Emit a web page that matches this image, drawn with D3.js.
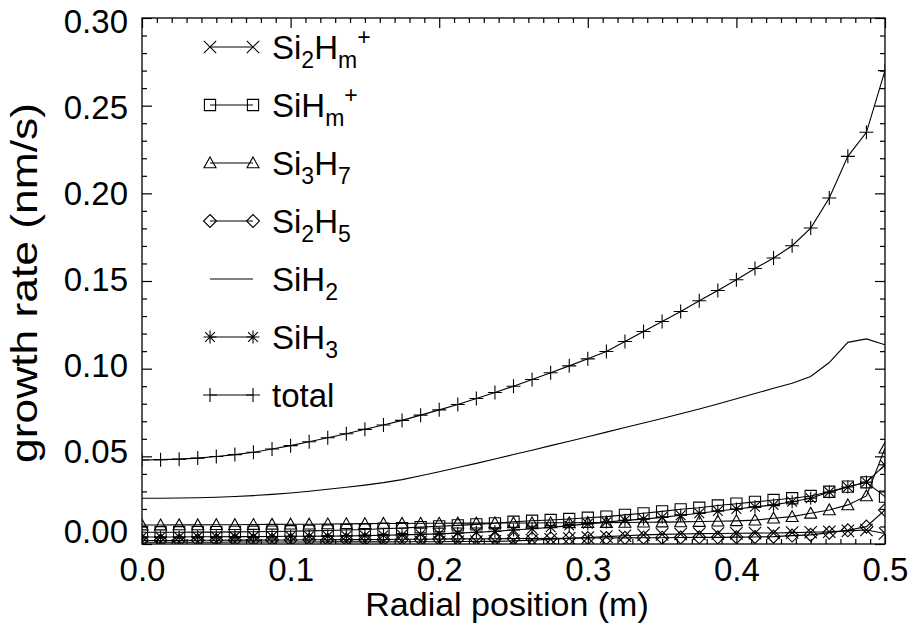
<!DOCTYPE html>
<html>
<head>
<meta charset="utf-8">
<script src="https://cdn.jsdelivr.net/npm/d3@7"></script>
<style>
  html, body { margin: 0; padding: 0; background: #fff; }
  svg text { font-family: "Liberation Sans", Arial, Helvetica, sans-serif; fill: #000; }
</style>
</head>
<body>
<svg id="chart" width="912" height="635"></svg>
<script>
// Radial grid (m)
const radialPosition = [0, 0.0125, 0.025, 0.0375, 0.05, 0.0625, 0.075, 0.0875, 0.1, 0.1125,
  0.125, 0.1375, 0.15, 0.1625, 0.175, 0.1875, 0.2, 0.2125, 0.225, 0.2375,
  0.25, 0.2625, 0.275, 0.2875, 0.3, 0.3125, 0.325, 0.3375, 0.35, 0.3625,
  0.375, 0.3875, 0.4, 0.4125, 0.425, 0.4375, 0.45, 0.4625, 0.475, 0.4875, 0.5];

// Growth rate contributions (nm/s)
const si2hmPlus = [0.0010, 0.0010, 0.0010, 0.0010, 0.0010, 0.0011, 0.0011, 0.0011, 0.0011, 0.0011,
  0.0012, 0.0012, 0.0012, 0.0012, 0.0013, 0.0013, 0.0013, 0.0014, 0.0014, 0.0015,
  0.0018, 0.0022, 0.0027, 0.0032, 0.0037, 0.0042, 0.0047, 0.0052, 0.0055, 0.0057,
  0.0059, 0.0060, 0.0061, 0.0062, 0.0063, 0.0065, 0.0067, 0.0070, 0.0075, 0.0080, 0.0060];
const sihmPlus = [0.0067, 0.0067, 0.0067, 0.0068, 0.0068, 0.0069, 0.0070, 0.0071, 0.0073, 0.0075,
  0.0077, 0.0080, 0.0083, 0.0087, 0.0091, 0.0096, 0.0101, 0.0106, 0.0112, 0.0118,
  0.0127, 0.0133, 0.0137, 0.0143, 0.0150, 0.0156, 0.0166, 0.0175, 0.0186, 0.0198,
  0.0207, 0.0220, 0.0230, 0.0240, 0.0251, 0.0261, 0.0274, 0.0298, 0.0327, 0.0352, 0.0270];
const si3h7 = [0.0108, 0.0108, 0.0109, 0.0109, 0.0110, 0.0110, 0.0111, 0.0112, 0.0113, 0.0113,
  0.0114, 0.0115, 0.0116, 0.0117, 0.0117, 0.0118, 0.0118, 0.0119, 0.0119, 0.0120,
  0.0120, 0.0120, 0.0121, 0.0121, 0.0122, 0.0122, 0.0123, 0.0124, 0.0125, 0.0126,
  0.0128, 0.0130, 0.0132, 0.0136, 0.0147, 0.0156, 0.0175, 0.0194, 0.0223, 0.0274, 0.0546];
const si2h5 = [0.0020, 0.0020, 0.0020, 0.0021, 0.0021, 0.0022, 0.0022, 0.0023, 0.0023, 0.0024,
  0.0024, 0.0025, 0.0025, 0.0026, 0.0027, 0.0027, 0.0028, 0.0029, 0.0029, 0.0030,
  0.0031, 0.0031, 0.0032, 0.0033, 0.0034, 0.0034, 0.0035, 0.0036, 0.0036, 0.0037,
  0.0038, 0.0038, 0.0039, 0.0040, 0.0042, 0.0048, 0.0052, 0.0065, 0.0078, 0.0099, 0.0194];
const sih2 = [0.0261, 0.0261, 0.0262, 0.0264, 0.0267, 0.0271, 0.0276, 0.0283, 0.0291, 0.0301,
  0.0312, 0.0324, 0.0336, 0.0350, 0.0367, 0.0389, 0.0412, 0.0436, 0.0460, 0.0485,
  0.0510, 0.0535, 0.0561, 0.0586, 0.0612, 0.0638, 0.0664, 0.0690, 0.0716, 0.0743,
  0.0770, 0.0798, 0.0828, 0.0858, 0.0888, 0.0917, 0.0955, 0.1035, 0.1150, 0.1170, 0.1136];
const sih3 = [0.0040, 0.0040, 0.0040, 0.0041, 0.0041, 0.0042, 0.0042, 0.0043, 0.0044, 0.0044,
  0.0045, 0.0046, 0.0048, 0.0050, 0.0052, 0.0055, 0.0058, 0.0062, 0.0067, 0.0072,
  0.0080, 0.0087, 0.0095, 0.0105, 0.0115, 0.0125, 0.0135, 0.0142, 0.0152, 0.0164,
  0.0175, 0.0188, 0.0200, 0.0212, 0.0223, 0.0241, 0.0261, 0.0296, 0.0325, 0.0353, 0.0451];
const total = [0.0479, 0.0481, 0.0484, 0.0490, 0.0499, 0.0510, 0.0523, 0.0542, 0.0561, 0.0583,
  0.0606, 0.0629, 0.0654, 0.0679, 0.0705, 0.0735, 0.0765, 0.0796, 0.0830, 0.0864,
  0.0900, 0.0938, 0.0977, 0.1016, 0.1056, 0.1098, 0.1155, 0.1212, 0.1269, 0.1326,
  0.1387, 0.1446, 0.1507, 0.1571, 0.1631, 0.1701, 0.1802, 0.1973, 0.2211, 0.2348, 0.2700];

// Axis ticks
const xMajorTicks = [0, 0.1, 0.2, 0.3, 0.4, 0.5];
const xMinorTicks = [0.01, 0.02, 0.03, 0.04, 0.05, 0.06, 0.07, 0.08, 0.09,
  0.11, 0.12, 0.13, 0.14, 0.15, 0.16, 0.17, 0.18, 0.19,
  0.21, 0.22, 0.23, 0.24, 0.25, 0.26, 0.27, 0.28, 0.29,
  0.31, 0.32, 0.33, 0.34, 0.35, 0.36, 0.37, 0.38, 0.39,
  0.41, 0.42, 0.43, 0.44, 0.45, 0.46, 0.47, 0.48, 0.49];
const yMajorTicks = [0, 0.05, 0.10, 0.15, 0.20, 0.25, 0.30];
const yMinorTicks = [0.01, 0.02, 0.03, 0.04, 0.06, 0.07, 0.08, 0.09,
  0.11, 0.12, 0.13, 0.14, 0.16, 0.17, 0.18, 0.19,
  0.21, 0.22, 0.23, 0.24, 0.26, 0.27, 0.28, 0.29];

const svg = d3.select("#chart");
const plot = { left: 142, right: 885, top: 18, bottom: 544 };

const x = d3.scaleLinear().domain([0, 0.5]).range([plot.left, plot.right]);
const y = d3.scaleLinear().domain([0, 0.30]).range([plot.bottom, plot.top]);

// Plot symbols, in the style of classic psym markers
const symbolPath = {
  cross:    s => `M${-s},${-s}L${s},${s}M${-s},${s}L${s},${-s}`,
  square:   s => `M${-s},${-s}H${s}V${s}H${-s}Z`,
  triangle: s => `M0,${-s}L${s},${s * 0.8}L${-s},${s * 0.8}Z`,
  diamond:  s => `M0,${-s}L${s},0L0,${s}L${-s},0Z`,
  asterisk: s => `M${-s},0H${s}M0,${-s}V${s}M${-s * 0.75},${-s * 0.75}L${s * 0.75},${s * 0.75}M${-s * 0.75},${s * 0.75}L${s * 0.75},${-s * 0.75}`,
  plus:     s => `M${-s},0H${s}M0,${-s}V${s}`
};

const series = [
  { key: "si2hmPlus", values: si2hmPlus, symbol: "cross",    size: 6.2,
    label: [["Si"], ["2", "sub"], ["H"], ["m", "sub"], ["+", "sup"]] },
  { key: "sihmPlus",  values: sihmPlus,  symbol: "square",   size: 5.6,
    label: [["SiH"], ["m", "sub"], ["+", "sup"]] },
  { key: "si3h7",     values: si3h7,     symbol: "triangle", size: 6,
    label: [["Si"], ["3", "sub"], ["H"], ["7", "sub"]] },
  { key: "si2h5",     values: si2h5,     symbol: "diamond",  size: 6.5,
    label: [["Si"], ["2", "sub"], ["H"], ["5", "sub"]] },
  { key: "sih2",      values: sih2,      symbol: null,       size: 0,
    label: [["SiH"], ["2", "sub"]] },
  { key: "sih3",      values: sih3,      symbol: "asterisk", size: 6.5,
    label: [["SiH"], ["3", "sub"]] },
  { key: "total",     values: total,     symbol: "plus",     size: 7,
    label: [["total"]] }
];

// Clip marks to the plotting window
svg.append("defs").append("clipPath").attr("id", "plot-clip")
  .append("rect")
  .attr("x", plot.left).attr("y", plot.top)
  .attr("width", plot.right - plot.left).attr("height", plot.bottom - plot.top);

const marks = svg.append("g").attr("clip-path", "url(#plot-clip)");
const line = d3.line().x((d, i) => x(radialPosition[i])).y(d => y(d));

series.forEach(s => {
  const g = marks.append("g").attr("class", "series " + s.key);
  g.append("path")
    .attr("d", line(s.values))
    .attr("fill", "none")
    .attr("stroke", "#000")
    .attr("stroke-width", 1.1);
  if (s.symbol) {
    g.selectAll("path.marker")
      .data(s.values)
      .join("path")
      .attr("class", "marker")
      .attr("transform", (d, i) => `translate(${x(radialPosition[i])},${y(d)})`)
      .attr("d", symbolPath[s.symbol](s.size))
      .attr("fill", "none")
      .attr("stroke", "#000")
      .attr("stroke-width", 1.1);
  }
});

// Axes: inward ticks on all four sides
const fontSize = 33;
function styleAxis(g) {
  g.select(".domain").remove();
  g.selectAll(".tick line").attr("stroke", "#000").attr("stroke-width", 1.2);
  g.selectAll(".tick text").attr("font-size", fontSize).attr("fill", "#000")
    .attr("font-family", '"Liberation Sans", Arial, Helvetica, sans-serif');
}

svg.append("g").attr("transform", `translate(0,${plot.bottom})`)
  .call(d3.axisBottom(x).tickValues(xMajorTicks).tickSize(-10).tickPadding(14).tickFormat(d3.format(".1f")))
  .call(styleAxis);
svg.append("g").attr("transform", `translate(0,${plot.bottom})`)
  .call(d3.axisBottom(x).tickValues(xMinorTicks).tickSize(-5).tickFormat(""))
  .call(styleAxis);
svg.append("g").attr("transform", `translate(0,${plot.top})`)
  .call(d3.axisTop(x).tickValues(xMajorTicks).tickSize(-10).tickFormat(""))
  .call(styleAxis);
svg.append("g").attr("transform", `translate(0,${plot.top})`)
  .call(d3.axisTop(x).tickValues(xMinorTicks).tickSize(-5).tickFormat(""))
  .call(styleAxis);

// Left axis labels sit slightly off their ticks; the lowest one rests on the frame
const yLabelNudge = v => v === 0 ? -12 : (v - 0.175) * 32;
svg.append("g").attr("transform", `translate(${plot.left},0)`)
  .call(d3.axisLeft(y).tickValues(yMajorTicks).tickSize(-10).tickPadding(14).tickFormat(d3.format(".2f")))
  .call(styleAxis)
  .call(g => g.selectAll(".tick text").attr("y", d => yLabelNudge(d)));
svg.append("g").attr("transform", `translate(${plot.left},0)`)
  .call(d3.axisLeft(y).tickValues(yMinorTicks).tickSize(-5).tickFormat(""))
  .call(styleAxis);
svg.append("g").attr("transform", `translate(${plot.right},0)`)
  .call(d3.axisRight(y).tickValues(yMajorTicks).tickSize(-10).tickFormat(""))
  .call(styleAxis);
svg.append("g").attr("transform", `translate(${plot.right},0)`)
  .call(d3.axisRight(y).tickValues(yMinorTicks).tickSize(-5).tickFormat(""))
  .call(styleAxis);

// Frame
svg.append("rect")
  .attr("x", plot.left).attr("y", plot.top)
  .attr("width", plot.right - plot.left).attr("height", plot.bottom - plot.top)
  .attr("fill", "none").attr("stroke", "#000").attr("stroke-width", 1.3);

// Axis titles
const titleSize = 34;
svg.append("text")
  .attr("x", 507).attr("y", 616)
  .attr("text-anchor", "middle").attr("font-size", titleSize)
  .text("Radial position (m)");
svg.append("text")
  .attr("transform", `translate(37,283) rotate(-90)`)
  .attr("text-anchor", "middle").attr("font-size", 37)
  .attr("textLength", 360).attr("lengthAdjust", "spacingAndGlyphs")
  .text("growth rate (nm/s)");

// Legend
const legend = svg.append("g").attr("class", "legend");
const legendRowY = d3.scaleLinear().domain([0, 6]).range([47, 395]);
const legendX0 = 210, legendX1 = 253, legendTextX = 272;

series.forEach((s, i) => {
  const row = legend.append("g").attr("transform", `translate(0,${legendRowY(i)})`);
  row.append("line")
    .attr("x1", legendX0).attr("x2", legendX1)
    .attr("y1", 0).attr("y2", 0)
    .attr("stroke", "#000").attr("stroke-width", 1.1);
  if (s.symbol) {
    [legendX0, legendX1].forEach(px => {
      row.append("path")
        .attr("transform", `translate(${px},0)`)
        .attr("d", symbolPath[s.symbol](s.size))
        .attr("fill", "none").attr("stroke", "#000").attr("stroke-width", 1.1);
    });
  }
  const t = row.append("text")
    .attr("x", legendTextX).attr("y", 12)
    .attr("font-size", fontSize);
  let shift = 0;
  s.label.forEach(([txt, kind]) => {
    const target = kind === "sub" ? 9 : kind === "sup" ? -14 : 0;
    t.append("tspan")
      .attr("dy", target - shift)
      .attr("font-size", kind ? 23 : fontSize)
      .text(txt);
    shift = target;
  });
});
</script>
</body>
</html>
